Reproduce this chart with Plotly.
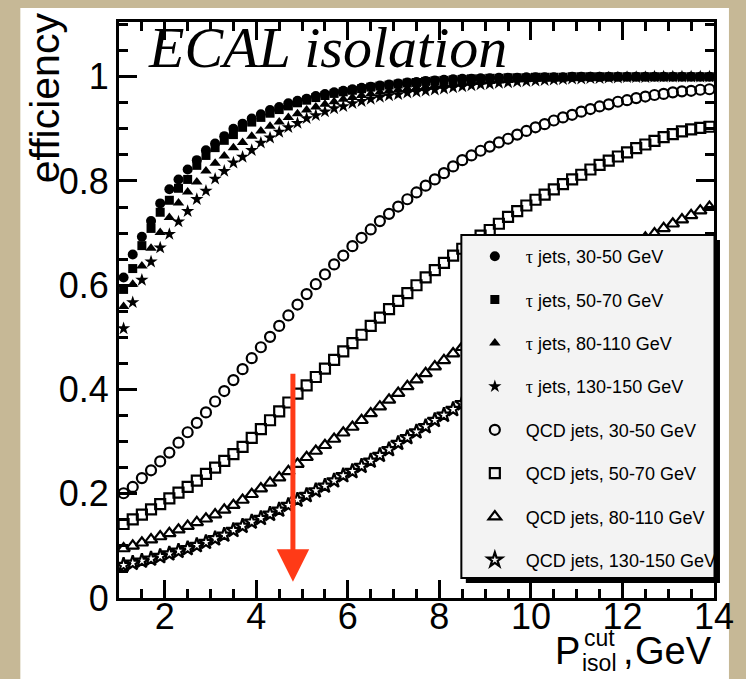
import plotly.graph_objects as go

# ---------------- data ----------------
x_cut = [1.1, 1.3, 1.5, 1.7, 1.9, 2.1, 2.3, 2.5, 2.7, 2.9,
         3.1, 3.3, 3.5, 3.7, 3.9, 4.1, 4.3, 4.5, 4.7, 4.9,
         5.1, 5.3, 5.5, 5.7, 5.9, 6.1, 6.3, 6.5, 6.7, 6.9,
         7.1, 7.3, 7.5, 7.7, 7.9, 8.1, 8.3, 8.5, 8.7, 8.9,
         9.1, 9.3, 9.5, 9.7, 9.9, 10.1, 10.3, 10.5, 10.7, 10.9,
         11.1, 11.3, 11.5, 11.7, 11.9, 12.1, 12.3, 12.5, 12.7, 12.9,
         13.1, 13.3, 13.5, 13.7, 13.9]

tau_30_50 = [0.615, 0.659, 0.693, 0.723, 0.757, 0.784, 0.803, 0.822, 0.840, 0.859,
             0.872, 0.886, 0.900, 0.910, 0.920, 0.928, 0.936, 0.942, 0.949, 0.954,
             0.958, 0.963, 0.967, 0.970, 0.973, 0.976, 0.979, 0.981, 0.983, 0.985,
             0.987, 0.989, 0.990, 0.992, 0.993, 0.994, 0.995, 0.996, 0.996, 0.997,
             0.997, 0.998, 0.998, 0.998, 0.999, 0.999, 0.999, 0.999, 0.999, 1.000,
             1.000, 1.000, 1.000, 1.000, 1.000, 1.000, 1.000, 1.000, 1.000, 1.000,
             1.000, 1.000, 1.000, 1.000, 1.000]
tau_50_70 = [0.592, 0.632, 0.676, 0.709, 0.740, 0.763, 0.786, 0.803, 0.830, 0.849,
             0.864, 0.878, 0.889, 0.903, 0.913, 0.922, 0.930, 0.937, 0.944, 0.950,
             0.955, 0.960, 0.964, 0.968, 0.971, 0.974, 0.977, 0.980, 0.982, 0.984,
             0.986, 0.988, 0.989, 0.991, 0.992, 0.993, 0.994, 0.995, 0.996, 0.996,
             0.997, 0.997, 0.998, 0.998, 0.998, 0.999, 0.999, 0.999, 0.999, 1.000,
             1.000, 1.000, 1.000, 1.000, 1.000, 1.000, 1.000, 1.000, 1.000, 1.000,
             1.000, 1.000, 1.000, 1.000, 1.000]
tau_80_110 = [0.559, 0.602, 0.637, 0.671, 0.701, 0.730, 0.758, 0.779, 0.798, 0.819,
              0.834, 0.848, 0.864, 0.874, 0.886, 0.896, 0.905, 0.913, 0.922, 0.929,
              0.936, 0.942, 0.947, 0.952, 0.957, 0.960, 0.964, 0.967, 0.970, 0.973,
              0.975, 0.977, 0.979, 0.981, 0.983, 0.985, 0.986, 0.988, 0.989, 0.990,
              0.991, 0.992, 0.993, 0.994, 0.995, 0.995, 0.996, 0.996, 0.997, 0.997,
              0.998, 0.998, 0.998, 0.999, 0.999, 0.999, 0.999, 1.000, 1.000, 1.000,
              1.000, 1.000, 1.000, 1.000, 1.000]
tau_130_150 = [0.517, 0.567, 0.610, 0.645, 0.672, 0.698, 0.722, 0.742, 0.765, 0.781,
               0.804, 0.819, 0.835, 0.846, 0.859, 0.873, 0.883, 0.894, 0.903, 0.911,
               0.920, 0.926, 0.933, 0.939, 0.943, 0.949, 0.953, 0.957, 0.961, 0.964,
               0.966, 0.969, 0.971, 0.973, 0.975, 0.977, 0.979, 0.981, 0.983, 0.985,
               0.986, 0.988, 0.989, 0.990, 0.991, 0.992, 0.993, 0.994, 0.995, 0.996,
               0.996, 0.997, 0.997, 0.998, 0.998, 0.999, 0.999, 0.999, 1.000, 1.000,
               1.000, 1.000, 1.000, 1.000, 1.000]
qcd_30_50 = [0.201, 0.213, 0.230, 0.245, 0.262, 0.279, 0.298, 0.318, 0.336, 0.356,
             0.377, 0.397, 0.418, 0.439, 0.460, 0.481, 0.501, 0.522, 0.542, 0.563,
             0.583, 0.602, 0.621, 0.640, 0.657, 0.675, 0.691, 0.707, 0.723, 0.737,
             0.751, 0.765, 0.778, 0.791, 0.803, 0.815, 0.828, 0.840, 0.849, 0.858,
             0.866, 0.874, 0.881, 0.889, 0.896, 0.903, 0.909, 0.916, 0.922, 0.927,
             0.933, 0.938, 0.943, 0.947, 0.952, 0.955, 0.959, 0.962, 0.965, 0.967,
             0.970, 0.972, 0.973, 0.975, 0.976]
qcd_50_70 = [0.142, 0.151, 0.160, 0.170, 0.180, 0.191, 0.202, 0.213, 0.225, 0.238,
             0.250, 0.263, 0.276, 0.290, 0.307, 0.324, 0.341, 0.358, 0.375, 0.392,
             0.408, 0.424, 0.440, 0.457, 0.473, 0.489, 0.505, 0.522, 0.538, 0.554,
             0.570, 0.585, 0.600, 0.615, 0.629, 0.643, 0.657, 0.670, 0.683, 0.695,
             0.706, 0.718, 0.731, 0.742, 0.753, 0.764, 0.774, 0.784, 0.794, 0.803,
             0.812, 0.822, 0.831, 0.839, 0.847, 0.855, 0.863, 0.870, 0.877, 0.884,
             0.890, 0.895, 0.899, 0.902, 0.904]
qcd_80_110 = [0.095, 0.100, 0.106, 0.112, 0.118, 0.124, 0.131, 0.138, 0.145, 0.152,
              0.160, 0.169, 0.178, 0.188, 0.199, 0.210, 0.221, 0.231, 0.243, 0.257,
              0.270, 0.282, 0.293, 0.305, 0.317, 0.328, 0.341, 0.354, 0.367, 0.380,
              0.393, 0.406, 0.419, 0.431, 0.444, 0.456, 0.469, 0.481, 0.493, 0.505,
              0.517, 0.529, 0.540, 0.551, 0.562, 0.573, 0.584, 0.595, 0.606, 0.616,
              0.626, 0.636, 0.646, 0.656, 0.665, 0.674, 0.683, 0.691, 0.699, 0.709,
              0.718, 0.726, 0.734, 0.743, 0.750]
qcd_130_150 = [0.063, 0.067, 0.071, 0.075, 0.080, 0.085, 0.090, 0.095, 0.101, 0.107,
               0.114, 0.121, 0.130, 0.138, 0.146, 0.153, 0.161, 0.169, 0.178, 0.188,
               0.197, 0.206, 0.215, 0.225, 0.235, 0.243, 0.253, 0.263, 0.274, 0.285,
               0.297, 0.308, 0.319, 0.329, 0.341, 0.351, 0.362, 0.373, 0.384, 0.395,
               0.406, 0.417, 0.428, 0.439, 0.450, 0.461, 0.472, 0.482, 0.492, 0.502,
               0.512, 0.522, 0.532, 0.541, 0.550, 0.559, 0.568, 0.577, 0.585, 0.593,
               0.601, 0.609, 0.617, 0.624, 0.631]

series_names = ["τ jets, 30-50 GeV", "τ jets, 50-70 GeV", "τ jets, 80-110 GeV",
                "τ jets, 130-150 GeV", "QCD jets, 30-50 GeV", "QCD jets, 50-70 GeV",
                "QCD jets, 80-110 GeV", "QCD jets, 130-150 GeV"]
series_values = [tau_30_50, tau_50_70, tau_80_110, tau_130_150,
                 qcd_30_50, qcd_50_70, qcd_80_110, qcd_130_150]

x_ticks = [2, 4, 6, 8, 10, 12, 14]
y_ticks = [0, 0.2, 0.4, 0.6, 0.8, 1]
y_tick_text = ["0", "0.2", "0.4", "0.6", "0.8", "1"]

arrow_x = 4.8
arrow_y_tail = 0.433
arrow_y_head = 0.031

# ---------------- styling ----------------
symbols = ["circle", "square", "triangle-up", "star",
           "circle-open", "square-open", "triangle-up-open", "star-open"]
sizes = [10, 9, 10, 10, 10, 10, 11, 11]

W, H = 746, 679
L, R, T, B = 119, 30, 22, 81
PW, PH = W - L - R, H - T - B


def px(xp):
    return (xp - L) / PW


def py(yp):
    return (H - B - yp) / PH


SANS = "Liberation Sans, Arial, Helvetica, sans-serif"
SERIF = "Liberation Serif, Times New Roman, serif"

fig = go.Figure()
for i, (name, vals) in enumerate(zip(series_names, series_values)):
    label = name.replace("τ", "<span style='font-family:Liberation Serif'>τ</span>")
    fig.add_trace(go.Scatter(
        x=x_cut, y=vals, mode="markers", name=label,
        legendgroup=f"g{i}",
        marker=dict(symbol=symbols[i], size=sizes[i], color="black",
                    line=dict(color="black", width=2.2 if i >= 4 else 0)),
        cliponaxis=True,
    ))

shapes = [
    # white canvas
    dict(type="rect", xref="paper", yref="paper", layer="below",
         x0=px(20), x1=px(731), y0=py(8), y1=py(690),
         fillcolor="white", line=dict(width=0)),
    # legend shadow
    dict(type="rect", xref="paper", yref="paper", layer="above",
         x0=px(467), x1=px(722), y0=py(240), y1=py(583),
         fillcolor="black", line=dict(width=0)),
    # legend box
    dict(type="rect", xref="paper", yref="paper", layer="above",
         x0=px(462.5), x1=px(716.5), y0=py(235), y1=py(578),
         fillcolor="#f3f3f3", line=dict(color="black", width=2)),
]

annotations = [
    dict(text="<i>ECAL isolation</i>", xref="paper", yref="paper",
         x=px(146), y=py(47), xanchor="left", yanchor="middle", showarrow=False,
         font=dict(family=SERIF, size=58, color="black")),
    dict(text="efficiency", xref="paper", yref="paper", textangle=-90,
         x=px(45), y=py(98), xanchor="center", yanchor="middle", showarrow=False,
         font=dict(family=SANS, size=41, color="black")),
    dict(text="P", xref="paper", yref="paper", x=px(584), y=py(651),
         xanchor="right", yanchor="middle", showarrow=False,
         font=dict(family=SANS, size=38, color="black")),
    dict(text="cut", xref="paper", yref="paper", x=px(584), y=py(638),
         xanchor="left", yanchor="middle", showarrow=False,
         font=dict(family=SANS, size=23, color="black")),
    dict(text="isol", xref="paper", yref="paper", x=px(582), y=py(663),
         xanchor="left", yanchor="middle", showarrow=False,
         font=dict(family=SANS, size=23, color="black")),
    dict(text=",", xref="paper", yref="paper", x=px(623), y=py(651),
         xanchor="left", yanchor="middle", showarrow=False,
         font=dict(family=SANS, size=38, color="black")),
    dict(text="GeV", xref="paper", yref="paper", x=px(716), y=py(651),
         xanchor="right", yanchor="middle", showarrow=False,
         font=dict(family=SANS, size=38, color="black")),
    dict(text="", x=arrow_x, y=arrow_y_head, ax=arrow_x, ay=arrow_y_tail,
         xref="x", yref="y", axref="x", ayref="y", showarrow=True,
         arrowhead=2, arrowsize=1.3, arrowwidth=5, arrowcolor="#ff3a17",
         standoff=0, startstandoff=0),
]

fig.update_layout(
    width=W, height=H,
    margin=dict(l=L, r=R, t=T, b=B, pad=0),
    paper_bgcolor="#c6b896",
    plot_bgcolor="white",
    shapes=shapes,
    annotations=annotations,
    showlegend=True,
    legend=dict(x=px(465), y=py(238), xanchor="left", yanchor="top",
                bgcolor="rgba(0,0,0,0)", borderwidth=0,
                font=dict(family=SANS, size=18, color="black"),
                tracegroupgap=17, traceorder="grouped", itemwidth=52),
    font=dict(family=SANS, color="black"),
)

common_axis = dict(showline=True, linewidth=3, linecolor="black", mirror="ticks",
                   ticks="inside", tickwidth=2.5, tickcolor="black",
                   showgrid=False, zeroline=False)

fig.update_xaxes(range=[1, 14], tickvals=x_ticks, ticklen=18, ticklabelstandoff=-15,
                 tickfont=dict(family=SANS, size=36, color="black"),
                 minor=dict(dtick=0.5, tick0=0, ticklen=9, tickwidth=2.5,
                            ticks="inside", tickcolor="black", showgrid=False),
                 **common_axis)
fig.update_yaxes(range=[0, 1.105], tickvals=y_ticks, ticktext=y_tick_text, ticklen=18,
                 tickfont=dict(family=SANS, size=36, color="black"),
                 minor=dict(dtick=0.05, tick0=0, ticklen=9, tickwidth=2.5,
                            ticks="inside", tickcolor="black", showgrid=False),
                 **common_axis)

fig.write_html("out.html")
